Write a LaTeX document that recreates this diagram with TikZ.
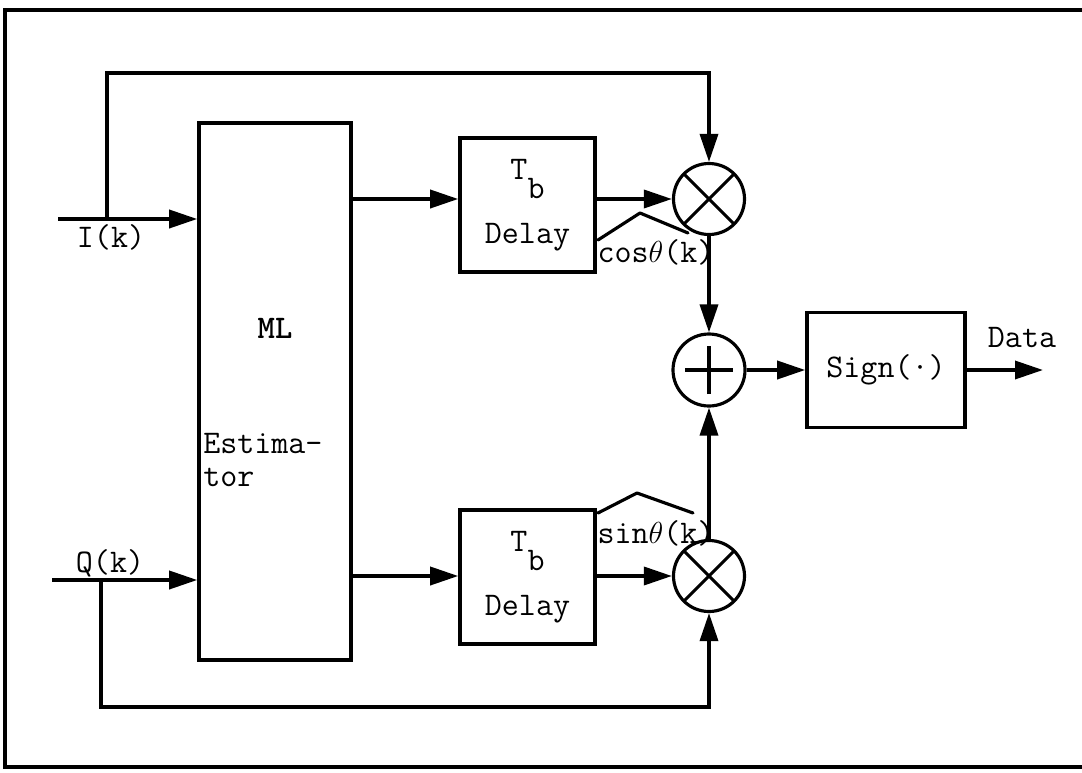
\documentclass[tikz,border=0pt]{standalone}
\usepackage{fontspec}
\usetikzlibrary{arrows.meta,positioning}
\tikzset{
  block/.style={draw,line width=2pt,inner sep=0pt,align=center},
  mixer/.style={draw,circle,line width=1.8pt,minimum size=14.2mm,inner sep=0pt,
    path picture={\draw[line width=1.8pt]
      (path picture bounding box.north east) -- (path picture bounding box.south west)
      (path picture bounding box.north west) -- (path picture bounding box.south east);}},
  summer/.style={draw,circle,line width=1.8pt,minimum size=14.4mm,inner sep=0pt,
    path picture={\draw[line width=1.8pt]
      ([xshift=-4.8mm]path picture bounding box.center) -- ([xshift=4.8mm]path picture bounding box.center)
      ([yshift=-4.8mm]path picture bounding box.center) -- ([yshift=4.8mm]path picture bounding box.center);}},
  sig/.style={line width=2pt},
  hat/.style={line width=1.8pt,line join=round,line cap=round}
}
\newcommand{\tbsub}{T\raisebox{-11pt}{b}}

\begin{document}
\begin{tikzpicture}[x=0.2mm,y=-0.2mm,>={Triangle[length=5.6mm,width=3.6mm]},
  every node/.style={font=\ttfamily\fontsize{18.8}{19}\selectfont}]
  \useasboundingbox (0,0) rectangle (1082,773);
  % frame
  \draw[line width=2pt] (1082,10) -- (5,10) -- (5,767) -- (1082,767);

  % blocks
  \node[block,minimum width=30.4mm,minimum height=107.4mm] (ML) at (275,391.5) {};
  \node (MLtxt) at (275,328) {\bfseries ML};
  \node[anchor=north west,align=left,inner sep=0pt] (esttxt) at (203,433) {Estima-\\tor};
  \node[block,minimum width=27mm,minimum height=26.8mm] (dly1) at (527.5,205) {\tbsub\\[13pt]Delay};
  \node[block,minimum width=27mm,minimum height=26.8mm] (dly2) at (527.5,577) {\tbsub\\[13pt]Delay};
  \node[mixer] (mul1) at (709,199) {};
  \node[summer] (add) at (709,370) {};
  \node[mixer] (mul2) at (709,576) {};
  \node[block,minimum width=31.6mm,minimum height=23mm] (sign) at (886,370) {Sign(·)};

  \coordinate (Iin) at (58,219);
  \coordinate (Ibr) at (107,219);
  \coordinate (Itop) at (107,73);
  \coordinate (Qin) at (52,580);
  \coordinate (Qbr) at (101,580);
  \coordinate (Qbot) at (101,707);
  \coordinate (out) at (1043,370);

  % I branch
  \draw[sig,->] (Iin) -- (ML.west |- Iin);
  \draw[sig,->] (Ibr) -- (Itop) -| (mul1);
  \node (Ilbl) at (111,237) {I(k)};
  % Q branch
  \draw[sig,->] (Qin) -- (ML.west |- Qin);
  \draw[sig,->] (Qbr) -- (Qbot) -| (mul2);
  \node (Qlbl) at (110,563) {Q(k)};

  % estimator outputs
  \draw[sig,->] (ML.east |- mul1) -- (dly1.west |- mul1);
  \draw[sig,->] (ML.east |- mul2) -- (dly2.west |- mul2);
  \draw[sig,->] (dly1.east |- mul1) -- (mul1);
  \draw[sig,->] (dly2.east |- mul2) -- (mul2);
  \node (coslbl) at (656,252) {cos$\theta$(k)};
  \node (sinlbl) at (656,533) {sin$\theta$(k)};
  \draw[hat] (598,240) -- (640,213) -- (688,233);
  \draw[hat] (598,513) -- (637,493) -- (693,513);

  % sum and decision
  \draw[sig,->] (mul1) -- (add);
  \draw[sig,->] (mul2) -- (add);
  \draw[sig,->] (add) -- (sign);
  \draw[sig,->] (sign) -- (out);
  \node (datalbl) at (1022,338) {Data};
\end{tikzpicture}
\end{document}
